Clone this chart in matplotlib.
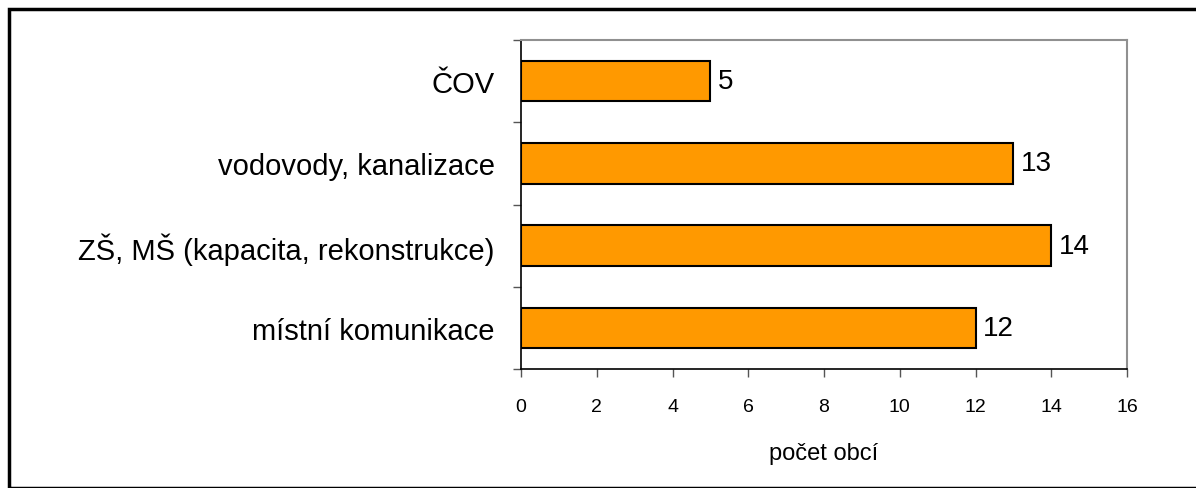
import matplotlib
matplotlib.use("Agg")
import matplotlib.pyplot as plt
from matplotlib.patches import Rectangle

categories = ["místní komunikace", "ZŠ, MŠ (kapacita, rekonstrukce)", "vodovody, kanalizace", "ČOV"]
values = [12, 14, 13, 5]
xticks = [0, 2, 4, 6, 8, 10, 12, 14, 16]
xlabel = "počet obcí"

plt.rcParams['font.family'] = ['Liberation Sans', 'DejaVu Sans']

W, H = 1196, 489
fig = plt.figure(figsize=(W / 100, H / 100), dpi=100)
ax = fig.add_axes([521 / W, 1 - 370 / H, (1127 - 521) / W, (370 - 41) / H])

ypos = list(range(len(categories)))
ax.barh(ypos, values, height=0.49, color="#FF9900", edgecolor="black", linewidth=1.5, zorder=3)
for y, v in zip(ypos, values):
    ax.text(v + 0.2, y, str(v), va="center", ha="left", fontsize=20)

ax.set_xlim(0, 16)
ax.set_ylim(-0.5, len(categories) - 0.5)
ax.set_xticks(xticks)
ax.set_xticklabels([str(t) for t in xticks], fontsize=14)
ax.set_yticks(ypos)
ax.set_yticklabels(categories, fontsize=21)
ax.tick_params(axis="y", which="major", length=0, pad=19)
ax.set_yticks([y - 0.5 for y in ypos] + [len(categories) - 0.5], minor=True)
ax.tick_params(axis="y", which="minor", length=6, width=1, color="#555555", direction="out")
ax.tick_params(axis="x", length=6, width=1, color="#555555", direction="out", pad=15)
ax.set_xlabel(xlabel, fontsize=17, labelpad=19)

for side in ["top", "right"]:
    ax.spines[side].set_color("#909090")
    ax.spines[side].set_linewidth(1.5)
for side in ["left", "bottom"]:
    ax.spines[side].set_color("black")
    ax.spines[side].set_linewidth(1.2)

fig.patches.append(Rectangle((8.5 / W, 0), 1.2, 1 - 9.5 / H, transform=fig.transFigure,
                             fill=False, edgecolor="black", linewidth=2.5, clip_on=False))

fig.savefig("out.png", dpi=100)
